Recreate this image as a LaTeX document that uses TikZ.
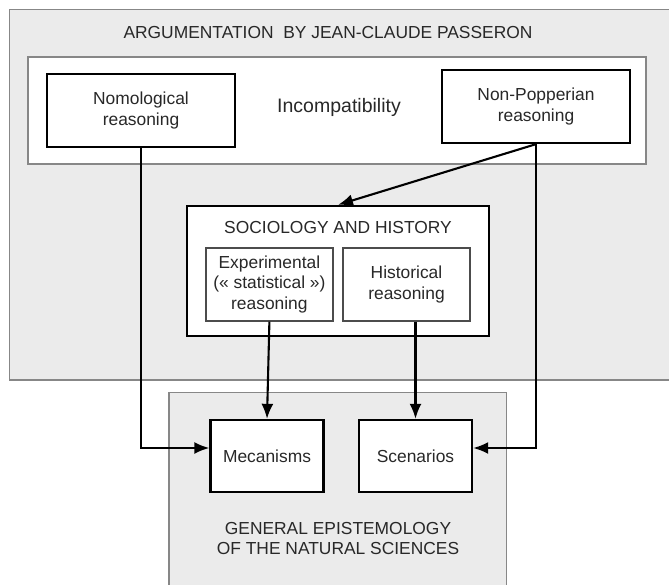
\documentclass[tikz,border=0pt]{standalone}
\usepackage{fontspec}
\setmainfont{Liberation Sans}
\usetikzlibrary{arrows.meta}
\definecolor{bggrey}{RGB}{235,235,235}
\definecolor{edgegrey}{RGB}{135,135,135}
\definecolor{txt}{RGB}{40,40,40}
\begin{document}
\begin{tikzpicture}[x=1pt,y=-1pt,
  every node/.style={font=\fontsize{17.4}{20.5}\selectfont, text=txt, align=center, inner sep=0pt},
  mainbox/.style={draw=black, line width=2.3pt, fill=white},
  subbox/.style={draw=black!70, line width=1.3pt, fill=white},
  area/.style={draw=edgegrey, line width=1.2pt},
  conn/.style={draw=black, line width=2.1pt},
  arr/.style={conn, -{Latex[length=15pt,width=12pt]}}]
\useasboundingbox (0,0) rectangle (669,585);
% outer grey area
\path[area, fill=bggrey] (9.5,9.5) rectangle (690,380);
\node (title) at (328,33) {ARGUMENTATION\ \ BY JEAN-CLAUDE PASSERON};
% inner white area
\path[area, fill=white] (28,57) rectangle (646,164);
\node[mainbox, minimum width=188pt, minimum height=73pt] (nomo) at (141,110.5) {Nomological\\reasoning};
\node[font=\fontsize{19.5}{22}\selectfont] (incomp) at (339,107) {Incompatibility};
\node[mainbox, minimum width=188pt, minimum height=73pt] (nonpop) at (536,106.5) {Non-Popperian\\reasoning};
% sociology and history
\node[mainbox, minimum width=302pt, minimum height=130pt] (socio) at (338,271) {};
\node (sociotitle) at (338,228) {SOCIOLOGY AND HISTORY};
\node[subbox, minimum width=127pt, minimum height=73pt] (exp) at (269.4,284.4) {Experimental\\(« statistical »)\\reasoning};
\node[subbox, minimum width=127pt, minimum height=73pt] (hist) at (406.5,284.4) {Historical\\reasoning};
% lower grey area
\path[area, fill=bggrey] (169,392.7) rectangle (506.7,600);
\node[mainbox, minimum width=113pt, minimum height=72pt] (mec) at (267,456) {Mecanisms};
\node[mainbox, minimum width=113pt, minimum height=72pt] (scen) at (415.5,456) {Scenarios};
\node (gen) at (338,538.5) {GENERAL EPISTEMOLOGY\\OF THE NATURAL SCIENCES};
% connectors
\draw[arr] (nonpop.south) -- (socio.north);
\draw[arr] (exp.south) -- (mec.north);
\draw[arr] (hist.south -| scen.north) -- (scen.north);
\draw[arr] (nomo.south) |- ([yshift=8pt]mec.west);
\draw[arr] (nonpop.south) |- ([yshift=8pt]scen.east);
\end{tikzpicture}
\end{document}
